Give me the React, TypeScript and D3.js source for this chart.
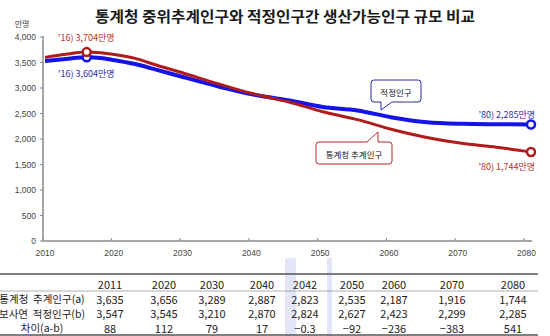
import React from "react";
import * as d3 from "d3";

const title = "통계청 중위추계인구와 적정인구간 생산가능인구 규모 비교";
const yUnit = "만명";

const years = [2010, 2013, 2016, 2018, 2020, 2023, 2026, 2030, 2035, 2040, 2042, 2045, 2050, 2055, 2060, 2065, 2070, 2075, 2080];
const statValues = [3600, 3660, 3704, 3690, 3656, 3580, 3450, 3289, 3080, 2887, 2823, 2730, 2535, 2380, 2187, 2030, 1916, 1840, 1744];
const optValues = [3530, 3570, 3604, 3590, 3545, 3470, 3360, 3210, 3030, 2870, 2824, 2760, 2627, 2560, 2423, 2330, 2299, 2290, 2285];

const yTicks = [0, 500, 1000, 1500, 2000, 2500, 3000, 3500, 4000];
const xTicks = [2010, 2020, 2030, 2040, 2050, 2060, 2070, 2080];

const tableYears = ["2011", "2020", "2030", "2040", "2042", "2050", "2060", "2070", "2080"];
const rowLabels = ["통계청  추계인구(a)", "보사연  적정인구(b)", "차이(a-b)"];
const rowStat = ["3,635", "3,656", "3,289", "2,887", "2,823", "2,535", "2,187", "1,916", "1,744"];
const rowOpt = ["3,547", "3,545", "3,210", "2,870", "2,824", "2,627", "2,423", "2,299", "2,285"];
const rowDiff = ["88", "112", "79", "17", "−0.3", "−92", "−236", "−383", "541"];

const RED = "#b01c1c";
const BLUE = "#1414e6";
const RED_TXT = "#b3302c";
const BLUE_TXT = "#2c2ca8";
const FONT = "'Noto Sans CJK KR', 'Noto Sans', sans-serif";

export default function App() {
  const W = 550, H = 336;
  const y = d3.scaleLinear().domain([0, 4000]).range([241, 37]);
  const xAxis = d3.scaleLinear().domain([2010, 2080]).range([42.5, 524]);
  const xLine = d3.scaleLinear().domain([2010, 2080]).range([45, 531]);

  const line = d3
    .line<number>()
    .x((_, i) => xLine(years[i]))
    .y((v) => y(v))
    .curve(d3.curveMonotoneX);

  const fmt = d3.format(",");
  const colX = [110, 164, 212, 262, 305, 352, 394, 452, 513];
  const rowY = [283.5, 298.5, 313, 327.5];
  const rows = [rowStat, rowOpt, rowDiff];

  const iPeak = years.indexOf(2016);
  const iEnd = years.length - 1;

  return (
    <svg width={W} height={H} style={{ position: "absolute", left: 0, top: 0, background: "#fff" }} fontFamily={FONT}>
      <rect x={0} y={0} width={W} height={H} fill="#fff" />
      {/* title */}
      <text x={285} y={15} textAnchor="middle" dominantBaseline="central" fontSize={14.5} fontWeight={700} fill="#1a1a1a" textLength={380} lengthAdjust="spacingAndGlyphs">
        {title}
      </text>
      <text x={22} y={23} textAnchor="middle" dominantBaseline="central" fontSize={8} fill="#444">{yUnit}</text>

      {/* y axis */}
      <line x1={43} x2={43} y1={y(4000) - 1} y2={y(0)} stroke="#8a8a8a" strokeWidth={1.5} />
      {yTicks.map((t) => (
        <g key={t}>
          <line x1={40} x2={43} y1={y(t)} y2={y(t)} stroke="#8a8a8a" strokeWidth={1} />
          <text x={36} y={y(t)} textAnchor="end" dominantBaseline="central" fontSize={8.5} fill="#444" fontFamily="'Liberation Sans', Arial, sans-serif">{fmt(t)}</text>
        </g>
      ))}

      {/* x axis */}
      <line x1={42.5} x2={532} y1={y(0)} y2={y(0)} stroke="#8a8a8a" strokeWidth={1.5} />
      {xTicks.map((t) => (
        <g key={t}>
          <line x1={xAxis(t)} x2={xAxis(t)} y1={y(0) - 3} y2={y(0)} stroke="#8a8a8a" strokeWidth={1} />
          <text x={xAxis(t) + 2.5} y={253} textAnchor="middle" dominantBaseline="central" fontSize={8.5} fill="#444" fontFamily="'Liberation Sans', Arial, sans-serif">{t}</text>
        </g>
      ))}

      {/* lines */}
      <path d={line(optValues) || ""} fill="none" stroke={BLUE} strokeWidth={4} strokeLinejoin="round" />
      <path d={line(statValues) || ""} fill="none" stroke={RED} strokeWidth={3} strokeLinejoin="round" />

      {/* markers */}
      {[iPeak, iEnd].map((i) => (
        <g key={i}>
          <circle cx={xLine(years[i])} cy={y(optValues[i])} r={4} fill="#fff" stroke={BLUE} strokeWidth={2.5} />
          <circle cx={xLine(years[i])} cy={y(statValues[i])} r={4} fill="#fff" stroke={RED} strokeWidth={2.5} />
        </g>
      ))}

      {/* value labels */}
      <text x={58} y={37} dominantBaseline="central" fontSize={9} fill={RED_TXT}>’16) 3,704만명</text>
      <text x={58} y={73} dominantBaseline="central" fontSize={9} fill={BLUE_TXT}>’16) 3,604만명</text>
      <text x={535} y={114} textAnchor="end" dominantBaseline="central" fontSize={9} fill={BLUE_TXT}>’80) 2,285만명</text>
      <text x={535} y={166} textAnchor="end" dominantBaseline="central" fontSize={9} fill={RED_TXT}>’80) 1,744만명</text>

      {/* callout: 적정인구 */}
      <path
        d="M374,80 H418 Q421,80 421,83 V99 Q421,102 418,102 H392 L381,110 L381,102 H374 Q371,102 371,99 V83 Q371,80 374,80 Z"
        fill="#fff"
        stroke="#2c2c9e"
        strokeWidth={1}
      />
      <text x={396} y={91.5} textAnchor="middle" dominantBaseline="central" fontSize={8.5} fill="#111">적정인구</text>

      {/* callout: 통계청 추계인구 */}
      <path
        d="M319,142 H367 L378,132 L378,142 H389 Q392,142 392,145 V161 Q392,164 389,164 H319 Q316,164 316,161 V145 Q316,142 319,142 Z"
        fill="#fff"
        stroke="#b02a2a"
        strokeWidth={1}
      />
      <text x={354} y={153.5} textAnchor="middle" dominantBaseline="central" fontSize={8.5} fill="#111">통계청 추계인구</text>

      {/* table highlight */}
      <rect x={285} y={258} width={11} height={78} fill="#e2e6f8" />
      <rect x={327} y={258} width={5} height={78} fill="#e2e6f8" />

      {/* table lines */}
      <line x1={0} x2={538} y1={274} y2={274} stroke="#555" strokeWidth={1.5} />
      <line x1={0} x2={538} y1={291} y2={291} stroke="#999" strokeWidth={0.8} />
      <line x1={0} x2={538} y1={335} y2={335} stroke="#555" strokeWidth={1.3} />

      {/* table header */}
      {tableYears.map((t, i) => (
        <text key={t} x={colX[i]} y={rowY[0]} textAnchor="middle" dominantBaseline="central" fontSize={11} fill="#222">{t}</text>
      ))}
      {rowLabels.map((lab, r) => (
        <text key={lab} x={42} y={rowY[r + 1]} textAnchor="middle" dominantBaseline="central" fontSize={10.5} fill="#222" style={{ whiteSpace: "pre" }}>{lab}</text>
      ))}
      {rows.map((row, r) =>
        row.map((v, i) => (
          <text key={`${r}-${i}`} x={colX[i]} y={rowY[r + 1]} textAnchor="middle" dominantBaseline="central" fontSize={11} fill="#222">{v}</text>
        ))
      )}
    </svg>
  );
}
